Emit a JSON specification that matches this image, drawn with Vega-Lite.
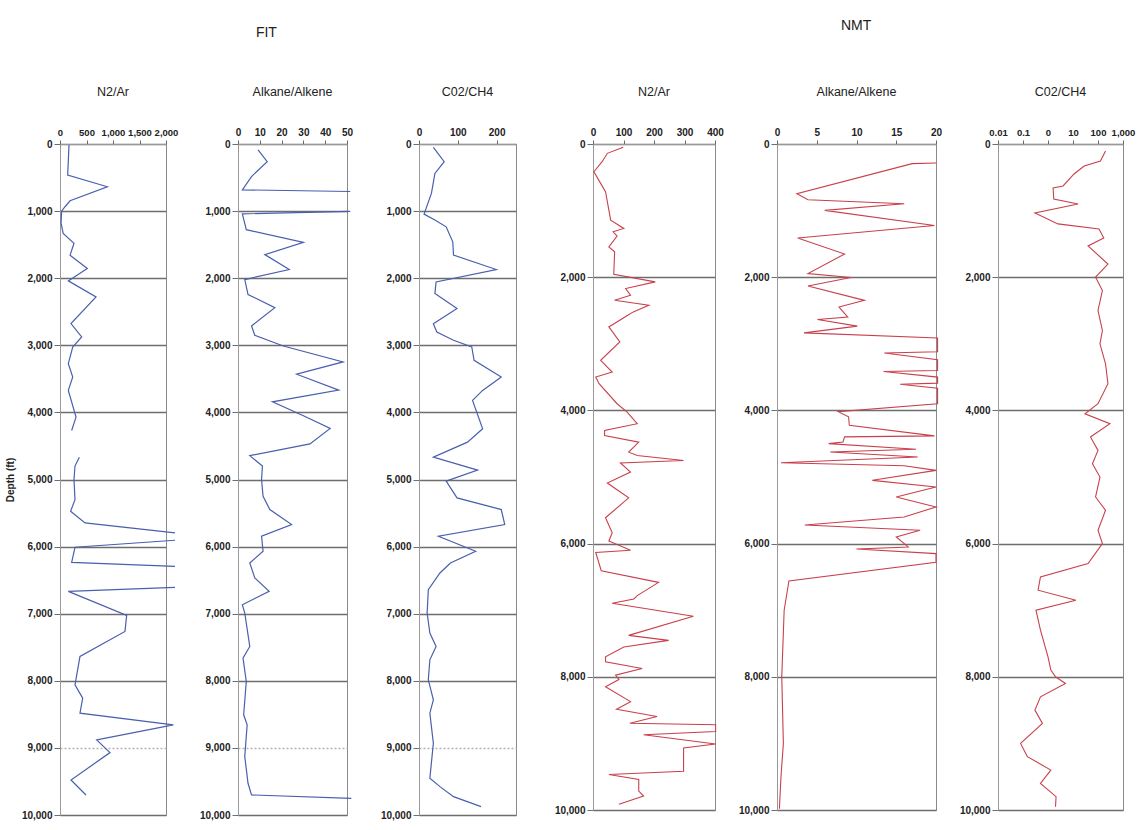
{
  "$schema": "https://vega.github.io/schema/vega-lite/v6.json",
  "background": "white",
  "padding": {"left": 4, "top": 19, "right": 5, "bottom": 5},
  "config": {
    "font": "Liberation Sans, sans-serif",
    "view": {"stroke": "#8a8a8a", "strokeWidth": 1},
    "axis": {
      "labelFont": "Liberation Sans, sans-serif",
      "labelFontSize": 10,
      "labelFontWeight": "bold",
      "labelColor": "#222",
      "tickColor": "#666",
      "domainColor": "#999",
      "labelOverlap": false,
      "labelFlush": false,
      "titleFont": "Liberation Sans, Arial, sans-serif",
      "titleFontSize": 10,
      "titleFontWeight": "bold",
      "titleColor": "#222"
    },
    "axisX": {"grid": false, "tickSize": 4, "labelPadding": 3},
    "axisY": {"grid": true, "gridColor": "#6e6e6e", "gridWidth": 1.4, "tickSize": 6, "labelPadding": 2, "tickColor": "#6e6e6e"},
    "title": {"font": "Liberation Sans, sans-serif", "fontSize": 12.5, "fontWeight": "normal", "color": "#222", "offset": 29}
  },
  "datasets": {
    "fit_n2": [
      {"depth":15,"value":170,"seg":1},{"depth":463,"value":145,"seg":1},{"depth":637,"value":893,"seg":1},{"depth":846,"value":190,"seg":1},{"depth":935,"value":95,"seg":1},{"depth":1000,"value":30,"seg":1},{"depth":1180,"value":20,"seg":1},{"depth":1333,"value":60,"seg":1},{"depth":1480,"value":264,"seg":1},{"depth":1657,"value":190,"seg":1},{"depth":1855,"value":515,"seg":1},{"depth":2040,"value":157,"seg":1},{"depth":2280,"value":680,"seg":1},{"depth":2677,"value":207,"seg":1},{"depth":2876,"value":409,"seg":1},{"depth":3025,"value":240,"seg":1},{"depth":3274,"value":157,"seg":1},{"depth":3473,"value":240,"seg":1},{"depth":3672,"value":157,"seg":1},{"depth":4070,"value":302,"seg":1},{"depth":4270,"value":220,"seg":1},
      {"depth":4667,"value":365,"seg":2},{"depth":4800,"value":283,"seg":2},{"depth":5000,"value":264,"seg":2},{"depth":5300,"value":283,"seg":2},{"depth":5473,"value":200,"seg":2},{"depth":5647,"value":472,"seg":2},{"depth":5796,"value":2170,"seg":2},
      {"depth":5905,"value":2170,"seg":3},{"depth":6010,"value":283,"seg":3},{"depth":6236,"value":220,"seg":3},{"depth":6294,"value":2170,"seg":3},
      {"depth":6607,"value":2170,"seg":4},{"depth":6667,"value":157,"seg":4},{"depth":7025,"value":1258,"seg":4},{"depth":7264,"value":1226,"seg":4},{"depth":7637,"value":377,"seg":4},{"depth":8060,"value":283,"seg":4},{"depth":8259,"value":428,"seg":4},{"depth":8483,"value":377,"seg":4},{"depth":8657,"value":2138,"seg":4},{"depth":8881,"value":692,"seg":4},{"depth":9070,"value":943,"seg":4},{"depth":9478,"value":208,"seg":4},{"depth":9702,"value":490,"seg":4}
    ],
    "fit_alk": [
      {"depth":89,"value":9.2,"seg":1},{"depth":262,"value":13.4,"seg":1},{"depth":485,"value":6.2,"seg":1},{"depth":683,"value":2.0,"seg":1},{"depth":708,"value":51.5,"seg":1},
      {"depth":1005,"value":51.5,"seg":2},{"depth":1040,"value":2.0,"seg":2},{"depth":1277,"value":3.8,"seg":2},{"depth":1465,"value":30,"seg":2},{"depth":1648,"value":12.3,"seg":2},{"depth":1871,"value":23.5,"seg":2},{"depth":2020,"value":3.1,"seg":2},{"depth":2243,"value":4.6,"seg":2},{"depth":2440,"value":16.9,"seg":2},{"depth":2713,"value":6.2,"seg":2},{"depth":2851,"value":7.7,"seg":2},{"depth":3010,"value":20.8,"seg":2},{"depth":3248,"value":48.2,"seg":2},{"depth":3431,"value":26.9,"seg":2},{"depth":3668,"value":46.2,"seg":2},{"depth":3842,"value":15.8,"seg":2},{"depth":4050,"value":30,"seg":2},{"depth":4238,"value":42.3,"seg":2},{"depth":4470,"value":33,"seg":2},{"depth":4644,"value":5.4,"seg":2},{"depth":4800,"value":11.2,"seg":2},{"depth":5000,"value":10.8,"seg":2},{"depth":5249,"value":11.5,"seg":2},{"depth":5448,"value":14.6,"seg":2},{"depth":5672,"value":24.6,"seg":2},{"depth":5846,"value":10.8,"seg":2},{"depth":6070,"value":11.5,"seg":2},{"depth":6244,"value":5.4,"seg":2},{"depth":6468,"value":7.7,"seg":2},{"depth":6667,"value":14.3,"seg":2},{"depth":6866,"value":2.0,"seg":2},{"depth":6990,"value":3.1,"seg":2},{"depth":7488,"value":5.4,"seg":2},{"depth":7662,"value":2.3,"seg":2},{"depth":8010,"value":3.8,"seg":2},{"depth":8507,"value":2.6,"seg":2},{"depth":8657,"value":4.2,"seg":2},{"depth":9129,"value":3.1,"seg":2},{"depth":9527,"value":4.6,"seg":2},{"depth":9701,"value":6.2,"seg":2},{"depth":9751,"value":52,"seg":2}
    ],
    "fit_co2": [
      {"depth":50,"value":37},{"depth":264,"value":65},{"depth":438,"value":41},{"depth":736,"value":32},{"depth":1045,"value":13},{"depth":1134,"value":41},{"depth":1234,"value":70},{"depth":1458,"value":87},{"depth":1657,"value":89},{"depth":1871,"value":199},{"depth":2055,"value":44},{"depth":2229,"value":41},{"depth":2453,"value":98},{"depth":2677,"value":37},{"depth":2801,"value":46},{"depth":2925,"value":89},{"depth":3025,"value":136},{"depth":3224,"value":142},{"depth":3473,"value":212},{"depth":3672,"value":164},{"depth":3821,"value":138},{"depth":4244,"value":164},{"depth":4443,"value":125},{"depth":4667,"value":37},{"depth":4860,"value":151},{"depth":5025,"value":70},{"depth":5274,"value":98},{"depth":5448,"value":212},{"depth":5672,"value":221},{"depth":5846,"value":50},{"depth":6070,"value":146},{"depth":6244,"value":81},{"depth":6393,"value":54},{"depth":6642,"value":24},{"depth":6990,"value":21},{"depth":7289,"value":28},{"depth":7488,"value":44},{"depth":7687,"value":28},{"depth":7985,"value":24},{"depth":8284,"value":37},{"depth":8483,"value":28},{"depth":8930,"value":37},{"depth":9453,"value":28},{"depth":9577,"value":54},{"depth":9726,"value":89},{"depth":9876,"value":160}
    ],
    "nmt_n2": [
      {"depth":50,"value":99},{"depth":140,"value":47},{"depth":266,"value":30},{"depth":416,"value":3},{"depth":591,"value":25},{"depth":717,"value":41},{"depth":1143,"value":58},{"depth":1268,"value":101},{"depth":1318,"value":66},{"depth":1383,"value":79},{"depth":1544,"value":52},{"depth":1619,"value":71},{"depth":1955,"value":68},{"depth":2070,"value":204},{"depth":2170,"value":107},{"depth":2271,"value":123},{"depth":2346,"value":71},{"depth":2421,"value":183},{"depth":2521,"value":132},{"depth":2571,"value":114},{"depth":2747,"value":52},{"depth":2972,"value":88},{"depth":3248,"value":25},{"depth":3424,"value":63},{"depth":3499,"value":9},{"depth":3599,"value":20},{"depth":3900,"value":79},{"depth":4025,"value":112},{"depth":4200,"value":145},{"depth":4301,"value":38},{"depth":4376,"value":38},{"depth":4476,"value":150},{"depth":4627,"value":117},{"depth":4677,"value":145},{"depth":4752,"value":297},{"depth":4790,"value":90},{"depth":4925,"value":123},{"depth":5090,"value":47},{"depth":5313,"value":117},{"depth":5612,"value":41},{"depth":5836,"value":63},{"depth":5960,"value":52},{"depth":6100,"value":123},{"depth":6134,"value":9},{"depth":6408,"value":27},{"depth":6582,"value":215},{"depth":6781,"value":145},{"depth":6831,"value":134},{"depth":6896,"value":63},{"depth":7090,"value":329},{"depth":7378,"value":117},{"depth":7453,"value":248},{"depth":7552,"value":101},{"depth":7701,"value":41},{"depth":7776,"value":41},{"depth":7876,"value":161},{"depth":7975,"value":74},{"depth":8040,"value":85},{"depth":8149,"value":41},{"depth":8373,"value":123},{"depth":8488,"value":77},{"depth":8597,"value":210},{"depth":8697,"value":121},{"depth":8721,"value":402},{"depth":8821,"value":402},{"depth":8871,"value":166},{"depth":9010,"value":402},{"depth":9070,"value":297},{"depth":9418,"value":297},{"depth":9468,"value":52},{"depth":9542,"value":150},{"depth":9716,"value":150},{"depth":9791,"value":166},{"depth":9915,"value":85}
    ],
    "nmt_alk": [
      {"depth":285,"value":20},{"depth":295,"value":17},{"depth":746,"value":2.5},{"depth":836,"value":3.9},{"depth":897,"value":16},{"depth":997,"value":6.0},{"depth":1224,"value":19.8},{"depth":1411,"value":2.6},{"depth":1652,"value":8.5},{"depth":1945,"value":3.9},{"depth":2005,"value":9.3},{"depth":2131,"value":3.9},{"depth":2348,"value":11},{"depth":2448,"value":7.8},{"depth":2600,"value":8.9},{"depth":2635,"value":5.1},{"depth":2735,"value":10.1},{"depth":2836,"value":3.4},{"depth":2912,"value":20.2},{"depth":3120,"value":20.2},{"depth":3139,"value":13.5},{"depth":3239,"value":20.2},{"depth":3400,"value":20.2},{"depth":3416,"value":13.4},{"depth":3500,"value":20.2},{"depth":3590,"value":20.2},{"depth":3607,"value":15.5},{"depth":3667,"value":20.2},{"depth":3900,"value":20.2},{"depth":4020,"value":7.7},{"depth":4096,"value":9.0},{"depth":4222,"value":9.1},{"depth":4383,"value":19.8},{"depth":4398,"value":8.5},{"depth":4474,"value":8.3},{"depth":4499,"value":6.5},{"depth":4584,"value":17.5},{"depth":4624,"value":6.7},{"depth":4700,"value":17.7},{"depth":4786,"value":0.5},{"depth":4830,"value":16},{"depth":4900,"value":20},{"depth":5050,"value":12},{"depth":5150,"value":20},{"depth":5300,"value":15},{"depth":5450,"value":20},{"depth":5600,"value":16},{"depth":5720,"value":3.5},{"depth":5800,"value":18},{"depth":5900,"value":15},{"depth":6050,"value":16.5},{"depth":6080,"value":10},{"depth":6150,"value":20},{"depth":6280,"value":20},{"depth":6560,"value":1.5},{"depth":7000,"value":0.9},{"depth":8000,"value":0.6},{"depth":9000,"value":0.8},{"depth":9500,"value":0.5},{"depth":9980,"value":0.3}
    ],
    "nmt_co2": [
      {"depth":105,"value":200},{"depth":255,"value":125},{"depth":330,"value":28},{"depth":450,"value":11},{"depth":630,"value":4},{"depth":660,"value":1.6},{"depth":826,"value":1.7},{"depth":900,"value":16},{"depth":1036,"value":0.3},{"depth":1200,"value":2.5},{"depth":1276,"value":110},{"depth":1411,"value":170},{"depth":1531,"value":40},{"depth":1802,"value":250},{"depth":2000,"value":80},{"depth":2200,"value":150},{"depth":2500,"value":100},{"depth":2800,"value":150},{"depth":3000,"value":120},{"depth":3300,"value":200},{"depth":3600,"value":250},{"depth":3900,"value":100},{"depth":4050,"value":30},{"depth":4200,"value":300},{"depth":4400,"value":50},{"depth":4600,"value":100},{"depth":4800,"value":60},{"depth":5000,"value":120},{"depth":5300,"value":80},{"depth":5500,"value":200},{"depth":5800,"value":100},{"depth":6000,"value":150},{"depth":6300,"value":40},{"depth":6500,"value":0.5},{"depth":6700,"value":0.4},{"depth":6850,"value":13},{"depth":7000,"value":0.33},{"depth":7300,"value":0.5},{"depth":7700,"value":1},{"depth":7900,"value":1.3},{"depth":8000,"value":2},{"depth":8100,"value":5},{"depth":8300,"value":0.5},{"depth":8500,"value":0.3},{"depth":8700,"value":0.6},{"depth":9000,"value":0.08},{"depth":9200,"value":0.15},{"depth":9400,"value":1.3},{"depth":9600,"value":0.5},{"depth":9800,"value":2.1},{"depth":9950,"value":2}
    ]
  },
  "spacing": 36,
  "hconcat": [
    {
      "title": {"text": "FIT", "fontSize": 14, "offset": 45, "dx": 251, "font": "Liberation Sans, Arial, sans-serif"},
      "spacing": 72,
      "bounds": "flush",
      "hconcat": [
        {
          "width": 106, "height": 671,
          "title": "N2/Ar",
          "data": {"name": "fit_n2"},
          "mark": {"type": "line", "color": "#4a5fae", "strokeWidth": 1.2},
          "encoding": {
            "x": {"field": "value", "type": "quantitative", "scale": {"domain": [0, 2000], "nice": false}, "axis": {"orient": "top", "values": [0, 500, 1000, 1500, 2000], "format": ",.0f", "title": null, "labelFontSize": 9.5}},
            "y": {"field": "depth", "type": "quantitative", "scale": {"domain": [0, 10000], "reverse": true, "nice": false}, "axis": {"values": [0,1000,2000,3000,4000,5000,6000,7000,8000,9000,10000], "format": ",.0f", "title": "Depth (ft)", "titlePadding": 6, "gridDash": {"condition": {"test": "datum.value === 9000", "value": [2, 2]}, "value": []}, "gridColor": {"condition": {"test": "datum.value === 9000", "value": "#b5b5b5"}, "value": "#6e6e6e"}}},
            "detail": {"field": "seg"},
            "order": {"field": "depth"}
          }
        },
        {
          "width": 109, "height": 671,
          "title": "Alkane/Alkene",
          "data": {"name": "fit_alk"},
          "mark": {"type": "line", "color": "#4a5fae", "strokeWidth": 1.2},
          "encoding": {
            "x": {"field": "value", "type": "quantitative", "scale": {"domain": [0, 50], "nice": false}, "axis": {"orient": "top", "values": [0, 10, 20, 30, 40, 50], "format": ".0f", "title": null}},
            "y": {"field": "depth", "type": "quantitative", "scale": {"domain": [0, 10000], "reverse": true, "nice": false}, "axis": {"values": [0,1000,2000,3000,4000,5000,6000,7000,8000,9000,10000], "format": ",.0f", "title": null, "gridDash": {"condition": {"test": "datum.value === 9000", "value": [2, 2]}, "value": []}, "gridColor": {"condition": {"test": "datum.value === 9000", "value": "#b5b5b5"}, "value": "#6e6e6e"}}},
            "detail": {"field": "seg"},
            "order": {"field": "depth"}
          }
        },
        {
          "width": 97, "height": 671,
          "title": "C02/CH4",
          "data": {"name": "fit_co2"},
          "mark": {"type": "line", "color": "#4a5fae", "strokeWidth": 1.2},
          "encoding": {
            "x": {"field": "value", "type": "quantitative", "scale": {"domain": [0, 250], "nice": false}, "axis": {"orient": "top", "values": [0, 100, 200], "format": ".0f", "title": null}},
            "y": {"field": "depth", "type": "quantitative", "scale": {"domain": [0, 10000], "reverse": true, "nice": false}, "axis": {"values": [0,1000,2000,3000,4000,5000,6000,7000,8000,9000,10000], "format": ",.0f", "title": null, "gridDash": {"condition": {"test": "datum.value === 9000", "value": [2, 2]}, "value": []}, "gridColor": {"condition": {"test": "datum.value === 9000", "value": "#b5b5b5"}, "value": "#6e6e6e"}}},
            "order": {"field": "depth"}
          }
        }
      ]
    },
    {
      "title": {"text": "NMT", "fontSize": 14, "offset": 52, "dx": 287, "font": "Liberation Sans, Arial, sans-serif"},
      "spacing": 62,
      "bounds": "flush",
      "hconcat": [
        {
          "width": 122, "height": 666,
          "title": "N2/Ar",
          "data": {"name": "nmt_n2"},
          "mark": {"type": "line", "color": "#c8404c", "strokeWidth": 1.1},
          "encoding": {
            "x": {"field": "value", "type": "quantitative", "scale": {"domain": [0, 400], "nice": false}, "axis": {"orient": "top", "values": [0, 100, 200, 300, 400], "format": ".0f", "title": null}},
            "y": {"field": "depth", "type": "quantitative", "scale": {"domain": [0, 10000], "reverse": true, "nice": false}, "axis": {"values": [0,2000,4000,6000,8000,10000], "format": ",.0f", "title": null}},
            "order": {"field": "depth"}
          }
        },
        {
          "width": 159, "height": 666,
          "title": "Alkane/Alkene",
          "data": {"name": "nmt_alk"},
          "mark": {"type": "line", "color": "#c8404c", "strokeWidth": 1.1},
          "encoding": {
            "x": {"field": "value", "type": "quantitative", "scale": {"domain": [0, 20], "nice": false}, "axis": {"orient": "top", "values": [0, 5, 10, 15, 20], "format": ".0f", "title": null}},
            "y": {"field": "depth", "type": "quantitative", "scale": {"domain": [0, 10000], "reverse": true, "nice": false}, "axis": {"values": [0,2000,4000,6000,8000,10000], "format": ",.0f", "title": null}},
            "order": {"field": "depth"}
          }
        },
        {
          "width": 125, "height": 666,
          "title": "C02/CH4",
          "data": {"name": "nmt_co2"},
          "mark": {"type": "line", "color": "#c8404c", "strokeWidth": 1.1},
          "encoding": {
            "x": {"field": "value", "type": "quantitative", "scale": {"type": "log", "domain": [0.01, 1000], "nice": false}, "axis": {"orient": "top", "values": [0.01, 0.1, 1, 10, 100, 1000], "labelExpr": "datum.value == 1 ? '0' : format(datum.value, ',')", "title": null, "labelFontSize": 9.5}},
            "y": {"field": "depth", "type": "quantitative", "scale": {"domain": [0, 10000], "reverse": true, "nice": false}, "axis": {"values": [0,2000,4000,6000,8000,10000], "format": ",.0f", "title": null}},
            "order": {"field": "depth"}
          }
        }
      ]
    }
  ]
}
